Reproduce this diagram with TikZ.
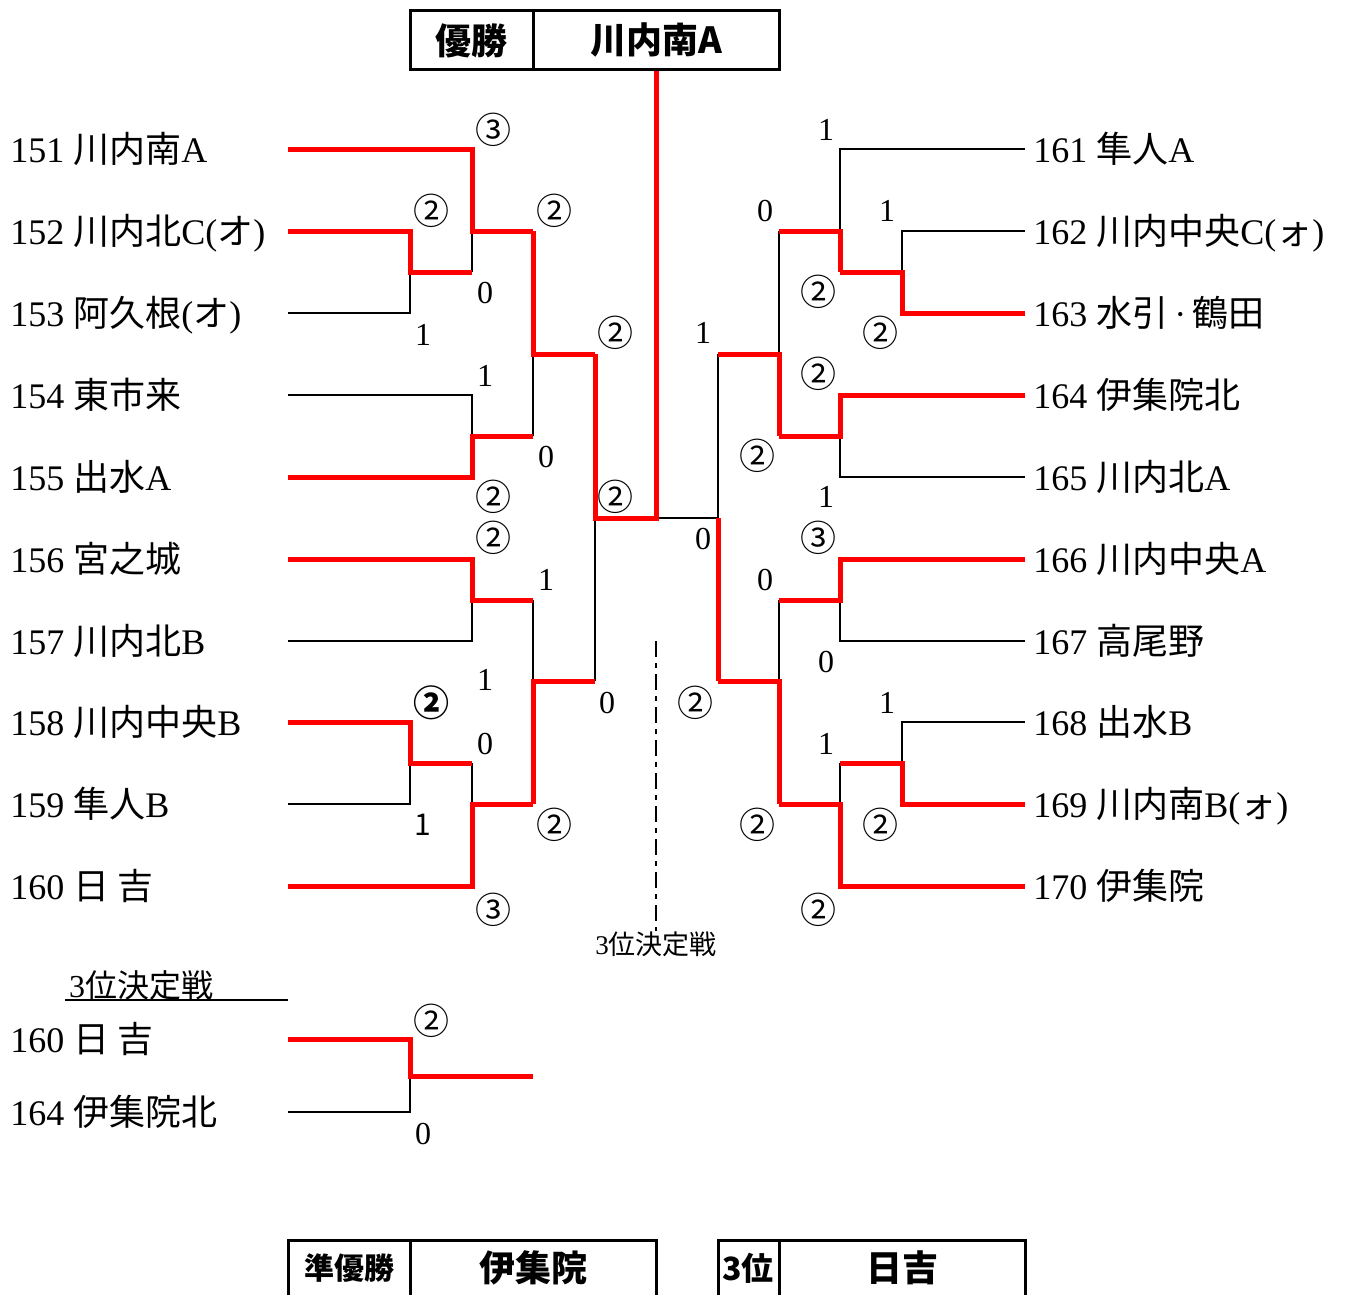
\documentclass[tikz,border=0pt]{standalone}
\usepackage{fontspec}
\setmainfont{Liberation Serif}
\newfontfamily\jp{Noto Sans CJK JP}
\tikzset{
  win/.style={red, line width=2.5pt},
  lose/.style={black, line width=1.2pt},
  boxline/.style={black, line width=1.5pt},
  team/.style={anchor=base west, inner sep=0pt, font=\fontsize{18}{20}\selectfont},
  circ/.style={inner sep=0pt, font=\jp\fontsize{18}{20}\selectfont},
  pts/.style={inner sep=0pt, font=\fontsize{16}{18}\selectfont},
  titlebox/.style={draw, line width=1.5pt, inner sep=0pt, minimum height=29.5pt, font=\jp\bfseries\fontsize{18}{20}\selectfont},
  boxtext/.style={inner sep=0pt, font=\jp\bfseries\fontsize{18}{20}\selectfont},
  dashdotline/.style={line width=1.3pt, dash pattern=on 8pt off 3pt on 2.5pt off 3pt},
}
\begin{document}
\begin{tikzpicture}[x=0.5pt, y=-0.5pt]
\useasboundingbox (0,0) rectangle (1352,1295);

% champion
\node[titlebox, minimum width=61.5pt] (yusho) at (471.5,40.5) {優勝};
\node[titlebox, minimum width=123pt] (champ) at (656,40.5) {川内南A};

% teams
\node[team] (n151) at (10,162) {151 {\jp 川内南}A};
\node[team] (n152) at (10,244) {152 {\jp 川内北}C({\jp オ})};
\node[team] (n153) at (10,326) {153 {\jp 阿久根}({\jp オ})};
\node[team] (n154) at (10,408) {154 {\jp 東市来}};
\node[team] (n155) at (10,490) {155 {\jp 出水}A};
\node[team] (n156) at (10,572) {156 {\jp 宮之城}};
\node[team] (n157) at (10,654) {157 {\jp 川内北}B};
\node[team] (n158) at (10,735) {158 {\jp 川内中央}B};
\node[team] (n159) at (10,817) {159 {\jp 隼人}B};
\node[team] (n160) at (10,899) {160 {\jp 日 吉}};
\node[team] (n161) at (1033,162) {161 {\jp 隼人}A};
\node[team] (n162) at (1033,244) {162 {\jp 川内中央}C({\jp ォ})};
\node[team] (n163) at (1033,326) {163 {\jp 水引}\,·\,{\jp 鶴田}};
\node[team] (n164) at (1033,408) {164 {\jp 伊集院北}};
\node[team] (n165) at (1033,490) {165 {\jp 川内北}A};
\node[team] (n166) at (1033,572) {166 {\jp 川内中央}A};
\node[team] (n167) at (1033,654) {167 {\jp 高尾野}};
\node[team] (n168) at (1033,735) {168 {\jp 出水}B};
\node[team] (n169) at (1033,817) {169 {\jp 川内南}B({\jp ォ})};
\node[team] (n170) at (1033,899) {170 {\jp 伊集院}};

\foreach \n/\y in {151/149,152/231,153/313,154/395,155/477,156/559,157/641,158/722,159/804,160/886}
  \coordinate (e\n) at (288,\y);
\foreach \n/\y in {161/149,162/231,163/313,164/395,165/477,166/559,167/641,168/722,169/804,170/886}
  \coordinate (e\n) at (1025,\y);

% match points
\coordinate (a1) at (410,272);
\coordinate (a2) at (472,231);
\coordinate (a3) at (472,436);
\coordinate (a4) at (533,354);
\coordinate (a5) at (472,600);
\coordinate (a6) at (410,763);
\coordinate (a7) at (472,804);
\coordinate (a8) at (533,681);
\coordinate (a9) at (595,518);
\coordinate (fin) at (656,518);
\coordinate (b1) at (902,272);
\coordinate (b2) at (840,231);
\coordinate (b3) at (840,436);
\coordinate (b4) at (779,354);
\coordinate (b5) at (840,600);
\coordinate (b6) at (902,763);
\coordinate (b7) at (840,804);
\coordinate (b8) at (779,681);
\coordinate (b9) at (718,518);

% losers
\draw[lose] (e153) -| (a1);
\draw[lose] (a1 -| a2) -- (a2);
\draw[lose] (e154) -| (a3);
\draw[lose] (a3 -| a4) -- (a4);
\draw[lose] (e157) -| (a5);
\draw[lose] (e159) -| (a6);
\draw[lose] (a6 -| a7) -- (a7);
\draw[lose] (a5 -| a8) -- (a8);
\draw[lose] (a8 -| a9) -- (a9);
\draw[lose] (e162) -| (b1);
\draw[lose] (e161) -| (b2);
\draw[lose] (e165) -| (b3);
\draw[lose] (b2 -| b4) -- (b4);
\draw[lose] (e167) -| (b5);
\draw[lose] (e168) -| (b6);
\draw[lose] (b6 -| b7) -- (b7);
\draw[lose] (b5 -| b8) -- (b8);
\draw[lose] (b4 -| b9) -- (b9);
\draw[lose] (fin) -- (b9);

% winners
\draw[win] (e152) -| (a1) -- (a1 -| a2);
\draw[win] (e151) -| (a2) -- (a2 -| a4);
\draw[win] (e155) -| (a3) -- (a3 -| a4);
\draw[win] (a2 -| a4) -- (a4) -- (a4 -| a9);
\draw[win] (e156) -| (a5) -- (a5 -| a8);
\draw[win] (e158) -| (a6) -- (a6 -| a7);
\draw[win] (e160) -| (a7) -- (a7 -| a8);
\draw[win] (a7 -| a8) -- (a8) -- (a8 -| a9);
\draw[win] (a4 -| a9) -- (a9) -- (fin) -- (champ.south);
\draw[win] (e163) -| (b1) -- (b1 -| b2);
\draw[win] (b1 -| b2) -- (b2) -- (b2 -| b4);
\draw[win] (e164) -| (b3) -- (b3 -| b4);
\draw[win] (b3 -| b4) -- (b4) -- (b4 -| b9);
\draw[win] (e166) -| (b5) -- (b5 -| b8);
\draw[win] (e169) -| (b6) -- (b6 -| b7);
\draw[win] (e170) -| (b7) -- (b7 -| b8);
\draw[win] (b7 -| b8) -- (b8) -- (b8 -| b9);
\draw[win] (b8 -| b9) -- (b9);

% scores
\foreach \t/\x/\y [count=\i] in {③/493/130, ②/431/211, ②/554/211, ②/615/333, ②/493/497, ②/615/497,
    ②/493/538, ②/554/825, ③/493/910, ②/818/292, ②/880/333, ②/818/374, ②/757/456, ③/818/538,
    ②/695/703, ②/757/825, ②/880/825, ②/818/910, ②/431/1021}
  \node[circ] (c\i) at (\x,\y) {\t};
\foreach \t/\x/\y [count=\i] in {0/485/293, 1/423/335, 1/485/376, 0/546/457, 1/546/580, 1/485/680,
    0/607/703, 0/485/744, 1/826/130, 0/765/211, 1/887/211, 1/703/333, 1/826/497, 0/703/539,
    0/765/580, 0/826/662, 1/887/703, 1/826/744, 0/423/1134}
  \node[pts] (p\i) at (\x,\y) {\t};
\node[circ, font=\jp\bfseries\fontsize{18}{20}\selectfont] (cb) at (431,703) {②};
\node[pts, font=\jp\fontsize{15}{17}\selectfont] (ps) at (423,825) {1};

% 3rd place match
\coordinate (d1) at (656,641);
\node[inner sep=0pt, font=\fontsize{13.5}{15}\selectfont] (tpc) at (656,944) {3{\jp 位決定戦}};
\draw[dashdotline] (d1) -- (tpc.north);
\node[inner sep=0pt, font=\fontsize{16}{18}\selectfont] (tpl) at (141,985) {3{\jp 位決定戦}};
\coordinate (u1) at (65,1000);
\coordinate (u2) at (288,1000);
\draw[lose] (u1) -- (u2);
\node[team] (m160) at (10,1052) {160 {\jp 日 吉}};
\node[team] (m164) at (10,1125) {164 {\jp 伊集院北}};
\coordinate (f160) at (288,1039);
\coordinate (f164) at (288,1112);
\coordinate (c1) at (410,1076);
\coordinate (c2) at (533,1076);
\draw[lose] (f164) -| (c1);
\draw[win] (f160) -| (c1) -- (c2);

% result boxes
\draw[boxline] (288,1295) |- (656,1240) -- (656,1295);
\draw[boxline] (410,1240) -- (410,1295);
\node[boxtext, font=\jp\bfseries\fontsize{15}{17}\selectfont] (jun) at (349,1268) {準優勝};
\node[boxtext] (runner) at (533,1268) {伊集院};
\draw[boxline] (718,1295) |- (1025,1240) -- (1025,1295);
\draw[boxline] (779,1240) -- (779,1295);
\node[boxtext, font=\jp\bfseries\fontsize{16}{18}\selectfont] (third) at (748,1268) {3位};
\node[boxtext] (thirdteam) at (902,1268) {日吉};
\end{tikzpicture}
\end{document}
